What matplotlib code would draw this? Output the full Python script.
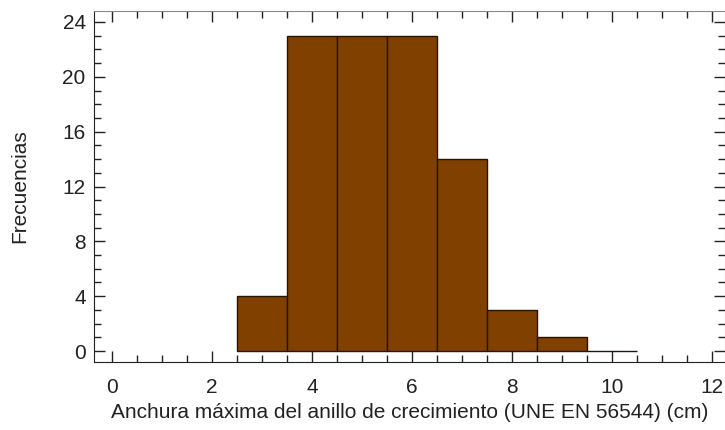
import matplotlib
matplotlib.use("Agg")
import matplotlib.pyplot as plt
from matplotlib.ticker import MultipleLocator

# histogram data
bin_edges = [2.5, 3.5, 4.5, 5.5, 6.5, 7.5, 8.5, 9.5, 10.5]
counts = [4, 23, 23, 23, 14, 3, 1, 0]

x_ticks = [0, 2, 4, 6, 8, 10, 12]
y_ticks = [0, 4, 8, 12, 16, 20, 24]

plt.rcParams['font.family'] = ['Liberation Sans', 'DejaVu Sans']

fig = plt.figure(figsize=(7.25, 4.3), dpi=100)
ax = fig.add_axes([94 / 725, 1 - 362 / 430, (725 - 94) / 725, (362 - 11) / 430])

lefts = bin_edges[:-1]
widths = [b - a for a, b in zip(bin_edges[:-1], bin_edges[1:])]
ax.bar(lefts, counts, width=widths, align='edge', color='#804000',
       edgecolor='#2a1400', linewidth=1.0)

ax.set_xlim(-0.36, 12.26)
ax.set_ylim(-0.8, 24.8)
ax.set_xticks(x_ticks)
ax.set_yticks(y_ticks)
ax.xaxis.set_minor_locator(MultipleLocator(0.5))
ax.yaxis.set_minor_locator(MultipleLocator(1))
ax.tick_params(which='both', direction='in', top=True, right=True,
               labelsize=15, colors='#222222', width=1.0)
ax.tick_params(which='major', length=8)
ax.tick_params(which='minor', length=5)
ax.tick_params(axis='x', pad=11.5)
ax.tick_params(axis='y', pad=6)

for side in ['left', 'bottom']:
    ax.spines[side].set_color('#222222')
for side in ['top', 'right']:
    ax.spines[side].set_color('#888888')

ax.set_xlabel('Anchura máxima del anillo de crecimiento (UNE EN 56544) (cm)',
              fontsize=15, color='#222222')
ax.set_ylabel('Frecuencias', fontsize=15, color='#222222', labelpad=24)

fig.savefig('out.png', dpi=100)
